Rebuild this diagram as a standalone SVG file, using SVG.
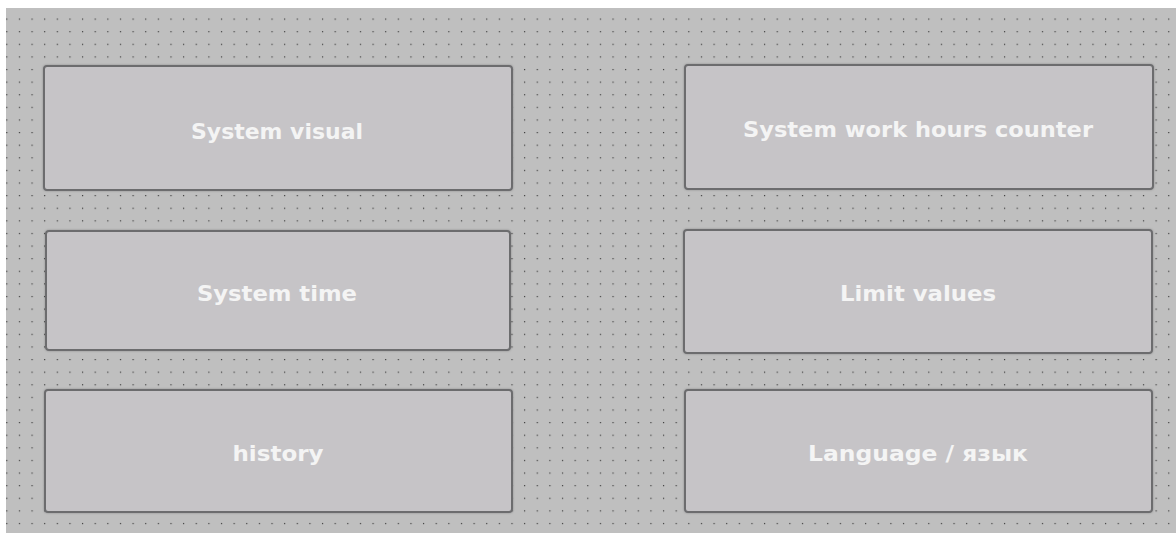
<svg xmlns="http://www.w3.org/2000/svg" width="1176" height="533" viewBox="0 0 1176 533">
  <defs>
    <pattern id="dots" x="0.4" y="12.7" width="12.63" height="12.61" patternUnits="userSpaceOnUse">
      <rect x="5.8" y="5.8" width="1.2" height="1.2" fill="#3c3c3c"/>
    </pattern>
    <filter id="sh" x="-5%" y="-5%" width="110%" height="110%">
      <feDropShadow dx="0" dy="0" stdDeviation="0.8" flood-color="#000" flood-opacity="0.25"/>
    </filter>
  </defs>
  <style>
    .box { fill: #c6c4c7; stroke: #6c6c6e; stroke-width: 2; filter: url(#sh); }
    .lbl { font-family: "DejaVu Sans", "Liberation Sans", sans-serif; font-weight: bold; font-size: 22px; fill: #f4f4f4; text-anchor: middle; dominant-baseline: central; }
  </style>
  <rect x="0" y="0" width="1176" height="533" fill="#ffffff"/>
  <rect x="6" y="8" width="1170" height="525" fill="#bfbfbf"/>
  <rect x="6" y="8" width="1170" height="525" fill="url(#dots)"/>

  <g id="connectors"></g>

  <g id="node-system-visual">
    <rect class="box" x="44" y="66" width="468" height="124" rx="3"/>
    <text class="lbl" x="277" y="131" textLength="172" lengthAdjust="spacingAndGlyphs">System visual</text>
  </g>
  <g id="node-system-time">
    <rect class="box" x="46" y="231" width="464" height="119" rx="3"/>
    <text class="lbl" x="277" y="293" textLength="160" lengthAdjust="spacingAndGlyphs">System time</text>
  </g>
  <g id="node-history">
    <rect class="box" x="45" y="390" width="467" height="122" rx="3"/>
    <text class="lbl" x="278" y="453" textLength="91" lengthAdjust="spacingAndGlyphs">history</text>
  </g>
  <g id="node-work-hours">
    <rect class="box" x="685" y="65" width="468" height="124" rx="3"/>
    <text class="lbl" x="918" y="129" textLength="350" lengthAdjust="spacingAndGlyphs">System work hours counter</text>
  </g>
  <g id="node-limit-values">
    <rect class="box" x="684" y="230" width="468" height="123" rx="3"/>
    <text class="lbl" x="918" y="293" textLength="156" lengthAdjust="spacingAndGlyphs">Limit values</text>
  </g>
  <g id="node-language">
    <rect class="box" x="685" y="390" width="467" height="122" rx="3"/>
    <text class="lbl" x="918" y="453" textLength="220" lengthAdjust="spacingAndGlyphs">Language / язык</text>
  </g>
</svg>
